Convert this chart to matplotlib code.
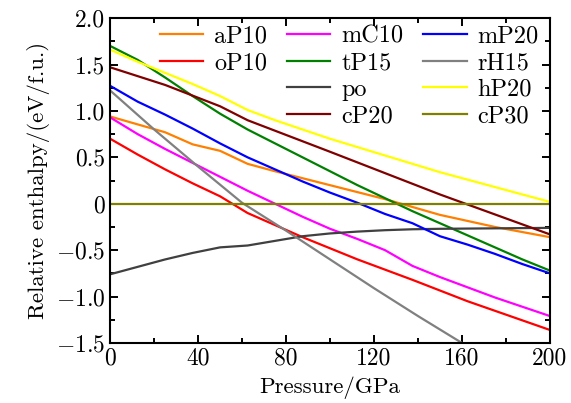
import matplotlib
matplotlib.use('Agg')
import matplotlib.pyplot as plt
from matplotlib.lines import Line2D
from matplotlib.ticker import MultipleLocator

plt.rcParams['font.family'] = 'serif'
plt.rcParams['font.serif'] = ['cmr10']
plt.rcParams['mathtext.fontset'] = 'cm'
plt.rcParams['axes.formatter.use_mathtext'] = True

# enthalpy vs pressure for each phase (eV/f.u. relative to cP30)
p_aP10 = [0, 25, 37.5, 50, 62.5, 75, 100, 125, 150, 175, 200]
h_aP10 = [0.94, 0.77, 0.64, 0.57, 0.43, 0.35, 0.20, 0.05, -0.12, -0.25, -0.36]

p_oP10 = [0, 12.5, 25, 37.5, 50, 62.5, 87.5, 112.5, 137.5, 162.5, 200]
h_oP10 = [0.70, 0.53, 0.37, 0.22, 0.08, -0.10, -0.36, -0.60, -0.82, -1.05, -1.36]

p_mC10 = [0, 12.5, 25, 37.5, 50, 62.5, 75, 87.5, 100, 112.5, 125, 137.5, 150, 162.5, 175, 187.5, 200]
h_mC10 = [0.93, 0.75, 0.59, 0.44, 0.29, 0.14, 0.00, -0.14, -0.27, -0.38, -0.50, -0.67,
          -0.79, -0.90, -1.01, -1.11, -1.21]

p_tP15 = [0, 12.5, 25, 37.5, 50, 62.5, 75, 87.5, 100, 112.5, 125, 137.5, 150, 162.5, 175, 187.5, 200]
h_tP15 = [1.70, 1.55, 1.36, 1.16, 0.97, 0.80, 0.65, 0.50, 0.35, 0.20, 0.06, -0.08,
          -0.21, -0.34, -0.47, -0.60, -0.72]

p_po = [0, 12.5, 25, 37.5, 50, 62.5, 75, 87.5, 100, 112.5, 125, 137.5, 150, 175, 200]
h_po = [-0.76, -0.68, -0.60, -0.53, -0.47, -0.45, -0.40, -0.35, -0.32, -0.30, -0.285,
        -0.275, -0.27, -0.265, -0.26]

p_cP20 = [0, 25, 50, 62.5, 100, 150, 200]
h_cP20 = [1.47, 1.28, 1.05, 0.90, 0.56, 0.10, -0.33]

p_mP20 = [0, 12.5, 25, 37.5, 50, 62.5, 75, 87.5, 100, 112.5, 125, 137.5, 150, 162.5, 175, 187.5, 200]
h_mP20 = [1.27, 1.10, 0.96, 0.81, 0.65, 0.50, 0.37, 0.24, 0.12, 0.01, -0.11, -0.21,
          -0.35, -0.44, -0.54, -0.65, -0.75]

p_rH15 = [0, 20, 40, 60, 80, 100, 120, 140, 160, 180]
h_rH15 = [1.22, 0.80, 0.40, 0.01, -0.29, -0.60, -0.91, -1.21, -1.50, -1.80]

p_hP20 = [0, 12.5, 25, 37.5, 50, 62.5, 75, 100, 125, 150, 175, 200]
h_hP20 = [1.66, 1.53, 1.41, 1.29, 1.16, 1.01, 0.90, 0.70, 0.52, 0.34, 0.18, 0.02]

p_cP30 = [0, 200]
h_cP30 = [0.0, 0.0]

series = [
    ('aP10', p_aP10, h_aP10, '#ff7f00'),
    ('oP10', p_oP10, h_oP10, '#ff0000'),
    ('mC10', p_mC10, h_mC10, '#ff00ff'),
    ('tP15', p_tP15, h_tP15, '#008000'),
    ('po', p_po, h_po, '#404040'),
    ('cP20', p_cP20, h_cP20, '#800000'),
    ('mP20', p_mP20, h_mP20, '#0000ff'),
    ('rH15', p_rH15, h_rH15, '#808080'),
    ('hP20', p_hP20, h_hP20, '#ffff00'),
    ('cP30', p_cP30, h_cP30, '#808000'),
]

x_ticks = [0, 40, 80, 120, 160, 200]
y_ticks = [-1.5, -1.0, -0.5, 0, 0.5, 1.0, 1.5, 2.0]
y_labels = [r'$-1.5$', r'$-1.0$', r'$-0.5$', '0', '0.5', '1.0', '1.5', '2.0']

fig = plt.figure(figsize=(5.71, 4.03), dpi=100)
ax = fig.add_axes([0.193, 0.149, 0.77, 0.806])

handles = {}
for name, p, h, c in series:
    line, = ax.plot(p, h, color=c, lw=1.6, label=name)
    handles[name] = line

ax.set_xlim(0, 200)
ax.set_ylim(-1.5, 2.0)
ax.set_xticks(x_ticks)
ax.set_xticklabels([str(t) for t in x_ticks])
ax.set_yticks(y_ticks)
ax.set_yticklabels(y_labels)
ax.xaxis.set_minor_locator(MultipleLocator(20))
ax.yaxis.set_minor_locator(MultipleLocator(0.25))
ax.tick_params(which='both', direction='in', top=True, right=True, labelsize=17, width=1.4)
ax.tick_params(which='major', length=6)
ax.tick_params(which='minor', length=3.5)
for s in ax.spines.values():
    s.set_linewidth(1.5)

ax.set_xlabel('Pressure/GPa', fontsize=16.5, labelpad=5)
ax.set_ylabel('Relative enthalpy/(eV/f.u.)', fontsize=16.5)

# two empty slots keep the first legend column short
blank = Line2D([], [], color='none')
order = ['aP10', 'oP10', None, None, 'mC10', 'tP15', 'po', 'cP20',
         'mP20', 'rH15', 'hP20', 'cP30']
leg_h = [handles[n] if n else blank for n in order]
leg_l = [n if n else '' for n in order]
ax.legend(leg_h, leg_l, ncol=3, loc='upper right', bbox_to_anchor=(1.0, 1.01),
          frameon=False, fontsize=17.5, handlelength=1.8, handletextpad=0.45,
          columnspacing=0.8, labelspacing=0.18, borderaxespad=0.05)

fig.savefig('out.png', dpi=100)
